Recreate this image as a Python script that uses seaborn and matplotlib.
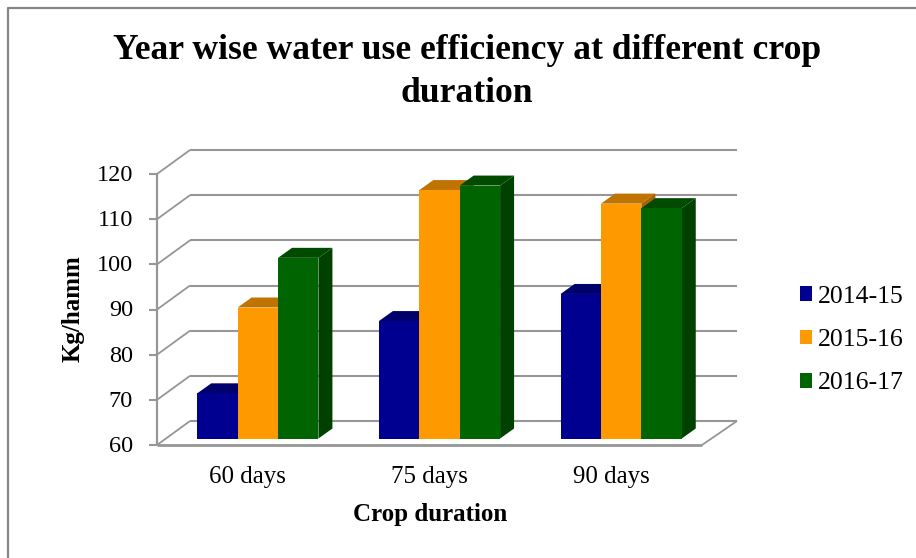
import matplotlib
matplotlib.use('Agg')
import pandas as pd
import matplotlib.pyplot as plt
import seaborn as sns
from matplotlib.lines import Line2D
from matplotlib.patches import Polygon
from matplotlib.colors import to_rgb
from matplotlib.transforms import ScaledTranslation

durations = ["60 days", "75 days", "90 days"]
years = ["2014-15", "2015-16", "2016-17"]
wue_2014 = [70, 86, 92]
wue_2015 = [89, 115, 112]
wue_2016 = [100, 116, 111]
y_ticks = [60, 70, 80, 90, 100, 110, 120]
colors = ["#000090", "#ff9900", "#006400"]

sns.set_style("white")
plt.rcParams['font.family'] = ['Liberation Serif', 'DejaVu Serif']
plt.rcParams['text.color'] = 'black'

df = pd.DataFrame({
    "Crop duration": durations * 3,
    "Year": [y for y in years for _ in durations],
    "WUE": wue_2014 + wue_2015 + wue_2016,
})

W, H = 916, 558
fig = plt.figure(figsize=(W / 100, H / 100), dpi=100)
# axes sit on the plane of the bars' front faces, the walls are offset from it
ax = fig.add_axes([167 / W, (H - 438.5) / H, 545 / W, 271 / H])
ax.patch.set_alpha(0)

sns.barplot(data=df, x="Crop duration", y="WUE", hue="Year", palette=colors,
            width=0.667, gap=0, saturation=1, linewidth=0, ax=ax)
ax.set_xlim(-0.5, 2.5)
ax.set_ylim(60, 120)
sns.despine(ax=ax, left=True, bottom=True)

x_px = 545 / 3
y_px = 271 / 60
grid = "#969696"


def shift(x, y, dx, dy):
    return x + dx / x_px, y + dy / y_px


def wall_line(p1, p2, lw=1.5, z=1):
    ax.add_line(Line2D([p1[0], p2[0]], [p1[1], p2[1]], color=grid, lw=lw,
                       clip_on=False, zorder=z, solid_capstyle='butt'))


# pixel offsets of the front and back planes from the bar plane
FRONT = (-10, -6.5)
BACK = (25, 17.5)
x0, x1 = ax.get_xlim()
for v in y_ticks:
    f0 = shift(x0, v, *FRONT)
    b0 = shift(x0 - 2 / x_px, v, *BACK)
    b1 = shift(x1, v, *BACK)
    wall_line(b0, b1)
    wall_line(f0, b0, lw=1.3)
    wall_line(shift(f0[0], f0[1], -8, 0), f0)
f_bot = shift(x0, 60, *FRONT)
f_top = shift(x0, 120, *FRONT)
f_right = shift(x1, 60, *FRONT)
wall_line(f_bot, f_top, lw=1.6)
wall_line(f_bot, f_right, lw=2.0, z=2)
wall_line(f_right, shift(x1, 60, *BACK), lw=1.3)

# depth of each bar: top and side faces built from the drawn patches
for i, (container, c) in enumerate(zip(ax.containers, colors)):
    rgb = to_rgb(c)
    top_c = tuple(k * 0.75 for k in rgb)
    side_c = tuple(k * 0.65 for k in rgb)
    for bar in container:
        bar.set_zorder(4 + i)
        xl = bar.get_x()
        xr = xl + bar.get_width()
        yt = bar.get_height()
        d = (14, 10)
        top = [(xl, yt), (xr, yt), shift(xr, yt, *d), shift(xl, yt, *d)]
        side = [(xr, 60), (xr, yt), shift(xr, yt, *d), shift(xr, 60, *d)]
        ax.add_patch(Polygon(top, fc=top_c, ec='none', clip_on=False, zorder=3.5 + i))
        ax.add_patch(Polygon(side, fc=side_c, ec='none', clip_on=False, zorder=3.5 + i))

ax.set_yticks(y_ticks)
ax.set_xlabel("")
ax.set_ylabel("")
ax.tick_params(axis='y', length=0, pad=24.5, labelsize=17.5, colors='black')
ax.tick_params(axis='x', length=0, pad=20, labelsize=18, colors='black')
for lab in ax.get_yticklabels():
    lab.set_transform(lab.get_transform() + ScaledTranslation(0, -0.055, fig.dpi_scale_trans))
for lab in ax.get_xticklabels():
    lab.set_transform(lab.get_transform() + ScaledTranslation(-0.10, 0, fig.dpi_scale_trans))

handles, labels = ax.get_legend_handles_labels()
ax.legend(handles, labels, loc='center left', bbox_to_anchor=(799.5 / W, (H - 340) / H),
          bbox_transform=fig.transFigure, frameon=False, fontsize=18.5,
          handlelength=0.5, handleheight=0.5, handletextpad=0.22,
          labelspacing=0.83, borderpad=0, borderaxespad=0)

fig.text(467 / W, (H - 72) / H, "Year wise water use efficiency at different crop\nduration",
         ha='center', va='center', fontsize=25.6, fontweight='bold', linespacing=1.42)
fig.text(73 / W, (H - 309) / H, "Kg/hamm", rotation=90, ha='center', va='center',
         fontsize=18, fontweight='bold')
fig.text(430 / W, (H - 515) / H, "Crop duration", ha='center', va='center',
         fontsize=18, fontweight='bold')

# chart frame, only top and left show in the crop
fig.add_artist(Line2D([8 / W, 8 / W, 1], [0, (H - 8) / H, (H - 8) / H], color="#868686", lw=1.6))

plt.savefig("out.png", dpi=100)
